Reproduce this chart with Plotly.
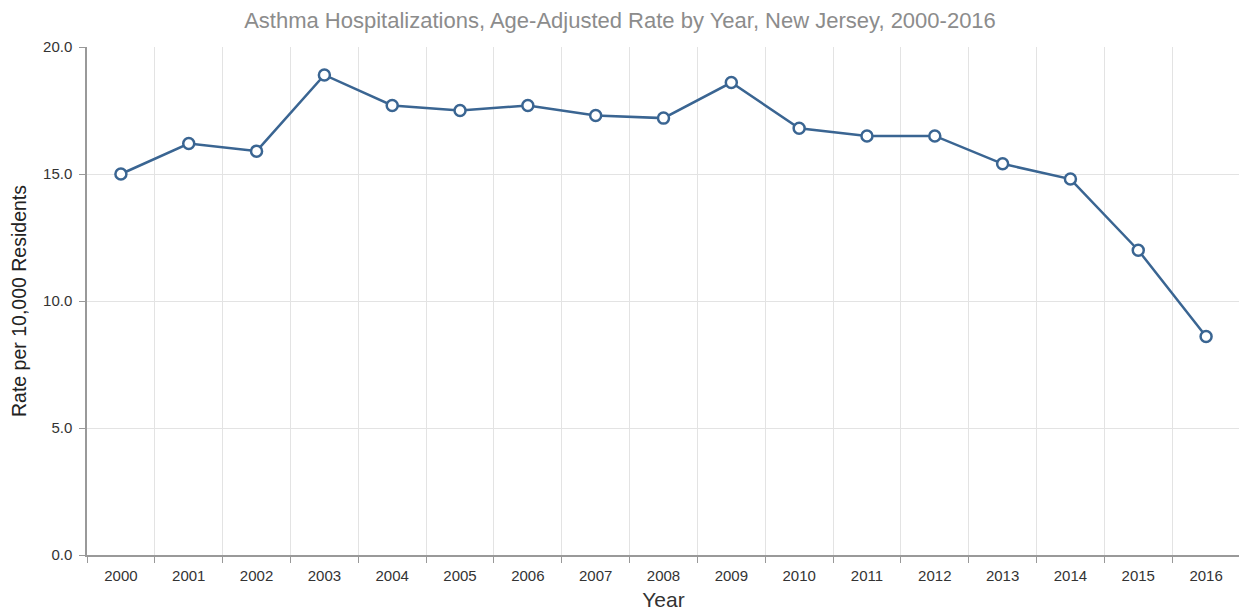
import plotly.graph_objects as go

years = [str(y) for y in range(2000, 2017)]
rates = [15.0, 16.2, 15.9, 18.9, 17.7, 17.5, 17.7, 17.3, 17.2, 18.6,
         16.8, 16.5, 16.5, 15.4, 14.8, 12.0, 8.6]
title_text = "Asthma Hospitalizations, Age-Adjusted Rate by Year, New Jersey, 2000-2016"
y_title = "Rate per 10,000 Residents"
x_title = "Year"

line_color = "#3a6592"
font_family = "Liberation Sans, Arial, sans-serif"

# the page body adds an 8px offset; margins compensate for it
fig = go.Figure()
fig.add_trace(go.Scatter(
    x=years, y=rates, mode="lines+markers",
    line=dict(color=line_color, width=2.5),
    marker=dict(symbol="circle", size=11, color="white",
                line=dict(color=line_color, width=2.5)),
    showlegend=False,
    hovertemplate="%{x}: %{y:.1f}<extra></extra>",
))

fig.update_layout(
    width=1247, height=616,
    margin=dict(l=79, r=15, t=39, b=69),
    paper_bgcolor="white", plot_bgcolor="white",
    font=dict(family=font_family, color="#333333", size=15),
    title=dict(text=title_text, x=(620 - 8) / 1247, xanchor="center",
               y=1 - 12.5 / 616, yanchor="middle", yref="container",
               font=dict(family=font_family, size=22, color="#8c8c8c")),
)

fig.update_xaxes(
    type="category", tickson="boundaries", range=[-0.5, len(years) - 0.5],
    automargin=False,
    showgrid=True, gridcolor="#e3e3e3", gridwidth=1,
    showline=True, linecolor="#999999", linewidth=1.5,
    ticks="outside", ticklen=6, tickcolor="#999999",
    ticklabelstandoff=6,
    tickfont=dict(size=15, color="#333333"),
    title=dict(text=x_title, font=dict(size=21, color="#333333"), standoff=10),
)
fig.update_yaxes(
    range=[0, 20], dtick=5, tickformat=".1f",
    automargin=False,
    showgrid=True, gridcolor="#e3e3e3", gridwidth=1,
    showline=True, linecolor="#999999", linewidth=1.5,
    ticks="outside", ticklen=6, tickcolor="#999999",
    ticklabelstandoff=4,
    tickfont=dict(size=15, color="#333333"),
    zeroline=False,
    title=dict(text=y_title, font=dict(size=19.5, color="#222222"), standoff=14),
)

fig.write_html("out.html")
